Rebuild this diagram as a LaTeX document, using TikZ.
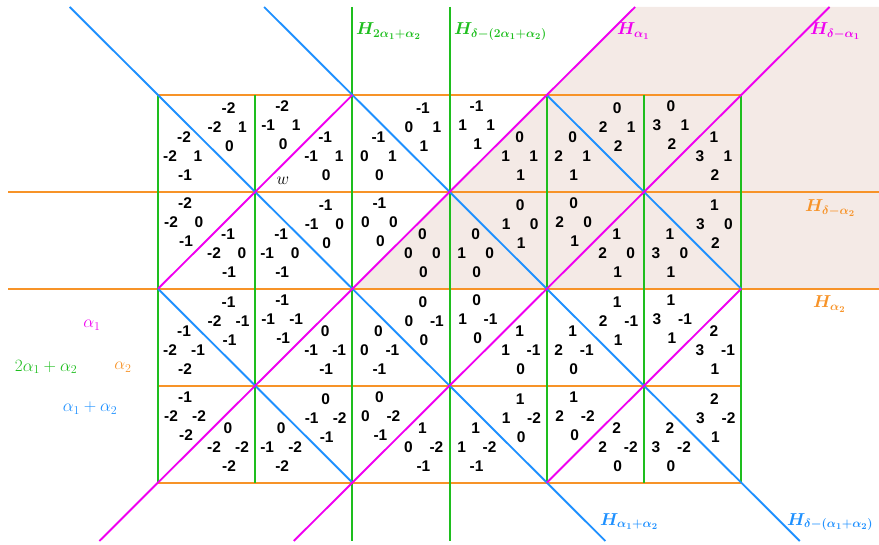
\documentclass[tikz,border=0pt]{standalone}
\usepackage{fontspec}
\setsansfont{Liberation Sans}
\definecolor{cgreen}{RGB}{30,190,30}
\definecolor{corange}{RGB}{247,147,40}
\definecolor{cblue}{RGB}{30,144,255}
\definecolor{cmag}{RGB}{240,0,240}
\definecolor{cshade}{RGB}{244,234,230}
\def\oxUR{70.5}\def\oyUR{32}
\def\oxLL{26}\def\oyLL{61}
\def\oxUL{27}\def\oyUL{30}
\def\oxLR{70}\def\oyLR{61}
\newcommand\tri[7]{%
  \pgfmathsetmacro\cx{158+97.2*#1+\csname ox#3\endcsname}%
  \pgfmathsetmacro\cy{95+96.9*#2+\csname oy#3\endcsname}%
  \node[num] (t#1#2#3) at (\cx,\cy-18.5) {#4};
  \node[num] (l#1#2#3) at (\cx-14,\cy) {#5};
  \node[num] (r#1#2#3) at (\cx+14,\cy) {#6};
  \node[num] (b#1#2#3) at (\cx+1,\cy+19) {#7};
}
\begin{document}
\begin{tikzpicture}[x=1pt,y=-1pt,
  num/.style={font=\fontsize{15.5}{17}\selectfont\sffamily\bfseries, inner sep=0pt},
  hl/.style={font=\fontsize{17.5}{20}\selectfont\boldmath, inner sep=0pt, anchor=base west},
  ml/.style={font=\fontsize{16.5}{19}\selectfont, inner sep=0pt},
  ln/.style={line width=1.9pt},
  og/.style={ln, draw=corange},
  gn/.style={ln, draw=cgreen},
  bl/.style={ln, draw=cblue},
  mg/.style={ln, draw=cmag}]
\useasboundingbox (0,0) rectangle (879,545);
% shaded dominant chamber
\fill[cshade] (352.4,288.8) -- (879,288.8) -- (879,7) -- (635.1,7) -- cycle;
% orange horizontals
\draw[og] (158,95) -- (741.2,95);
\draw[og] (8,191.9) -- (879,191.9);
\draw[og] (8,288.8) -- (879,288.8);
\draw[og] (158,385.7) -- (741.2,385.7);
\draw[og] (158,482.6) -- (741.2,482.6);
% green verticals
\foreach \x in {158,255.2,546.8,644,741.2} \draw[gn] (\x,95) -- (\x,482.6);
\foreach \x in {352.4,449.6} \draw[gn] (\x,7) -- (\x,541);
% blue diagonals
\draw[bl] (69.7,7) -- (605.4,541);
\draw[bl] (264.1,7) -- (799.8,541);
\draw[bl] (546.8,95) -- (741.2,288.8);
\draw[bl] (158,288.8) -- (352.4,482.6);
% magenta diagonals
\draw[mg] (99.4,541) -- (635.1,7);
\draw[mg] (293.8,541) -- (829.5,7);
\draw[mg] (158,288.8) -- (352.4,95);
\draw[mg] (546.8,482.6) -- (741.2,288.8);
% numbers
\tri{0}{0}{UR}{-2}{-2}{1}{0}
\tri{0}{0}{LL}{-2}{-2}{1}{-1}
\tri{1}{0}{UL}{-2}{-1}{1}{0}
\tri{1}{0}{LR}{-1}{-1}{1}{0}
\tri{2}{0}{UR}{-1}{0}{1}{1}
\tri{2}{0}{LL}{-1}{0}{1}{0}
\tri{3}{0}{UL}{-1}{1}{1}{1}
\tri{3}{0}{LR}{0}{1}{1}{1}
\tri{4}{0}{UR}{0}{2}{1}{2}
\tri{4}{0}{LL}{0}{2}{1}{1}
\tri{5}{0}{UL}{0}{3}{1}{2}
\tri{5}{0}{LR}{1}{3}{1}{2}
\tri{0}{1}{UL}{-2}{-2}{0}{-1}
\tri{0}{1}{LR}{-1}{-2}{0}{-1}
\tri{1}{1}{UR}{-1}{-1}{0}{0}
\tri{1}{1}{LL}{-1}{-1}{0}{-1}
\tri{2}{1}{UL}{-1}{0}{0}{0}
\tri{2}{1}{LR}{0}{0}{0}{0}
\tri{3}{1}{UR}{0}{1}{0}{1}
\tri{3}{1}{LL}{0}{1}{0}{0}
\tri{4}{1}{UL}{0}{2}{0}{1}
\tri{4}{1}{LR}{1}{2}{0}{1}
\tri{5}{1}{UR}{1}{3}{0}{2}
\tri{5}{1}{LL}{1}{3}{0}{1}
\tri{0}{2}{UR}{-1}{-2}{-1}{-1}
\tri{0}{2}{LL}{-1}{-2}{-1}{-2}
\tri{1}{2}{UL}{-1}{-1}{-1}{-1}
\tri{1}{2}{LR}{0}{-1}{-1}{-1}
\tri{2}{2}{UR}{0}{0}{-1}{0}
\tri{2}{2}{LL}{0}{0}{-1}{-1}
\tri{3}{2}{UL}{0}{1}{-1}{0}
\tri{3}{2}{LR}{1}{1}{-1}{0}
\tri{4}{2}{UR}{1}{2}{-1}{1}
\tri{4}{2}{LL}{1}{2}{-1}{0}
\tri{5}{2}{UL}{1}{3}{-1}{1}
\tri{5}{2}{LR}{2}{3}{-1}{1}
\tri{0}{3}{UL}{-1}{-2}{-2}{-2}
\tri{0}{3}{LR}{0}{-2}{-2}{-2}
\tri{1}{3}{UR}{0}{-1}{-2}{-1}
\tri{1}{3}{LL}{0}{-1}{-2}{-2}
\tri{2}{3}{UL}{0}{0}{-2}{-1}
\tri{2}{3}{LR}{1}{0}{-2}{-1}
\tri{3}{3}{UR}{1}{1}{-2}{0}
\tri{3}{3}{LL}{1}{1}{-2}{-1}
\tri{4}{3}{UL}{1}{2}{-2}{0}
\tri{4}{3}{LR}{2}{2}{-2}{0}
\tri{5}{3}{UR}{2}{3}{-2}{1}
\tri{5}{3}{LL}{2}{3}{-2}{0}
% w
\node[font=\fontsize{18}{20}\selectfont, inner sep=0pt] (w) at (283,181) {$w$};
% hyperplane labels
\node[hl, text=cgreen] (h1) at (356,35) {$H_{2\alpha_1+\alpha_2}$};
\node[hl, text=cgreen] (h2) at (454,35) {$H_{\delta-(2\alpha_1+\alpha_2)}$};
\node[hl, text=cmag] (h3) at (617,35) {$H_{\alpha_1}$};
\node[hl, text=cmag] (h4) at (810,35) {$H_{\delta-\alpha_1}$};
\node[hl, text=corange] (h5) at (805,212) {$H_{\delta-\alpha_2}$};
\node[hl, text=corange] (h6) at (813,308) {$H_{\alpha_2}$};
\node[hl, text=cblue] (h7) at (600,525) {$H_{\alpha_1+\alpha_2}$};
\node[hl, text=cblue] (h8) at (787,525) {$H_{\delta-(\alpha_1+\alpha_2)}$};
% root labels
\node[ml, text=cmag] (a1) at (92,325) {$\alpha_1$};
\node[ml, text=cgreen] (a2) at (46,367) {$2\alpha_1+\alpha_2$};
\node[ml, text=corange] (a3) at (123,367) {$\alpha_2$};
\node[ml, text=cblue] (a4) at (90,408) {$\alpha_1+\alpha_2$};
\end{tikzpicture}
\end{document}
